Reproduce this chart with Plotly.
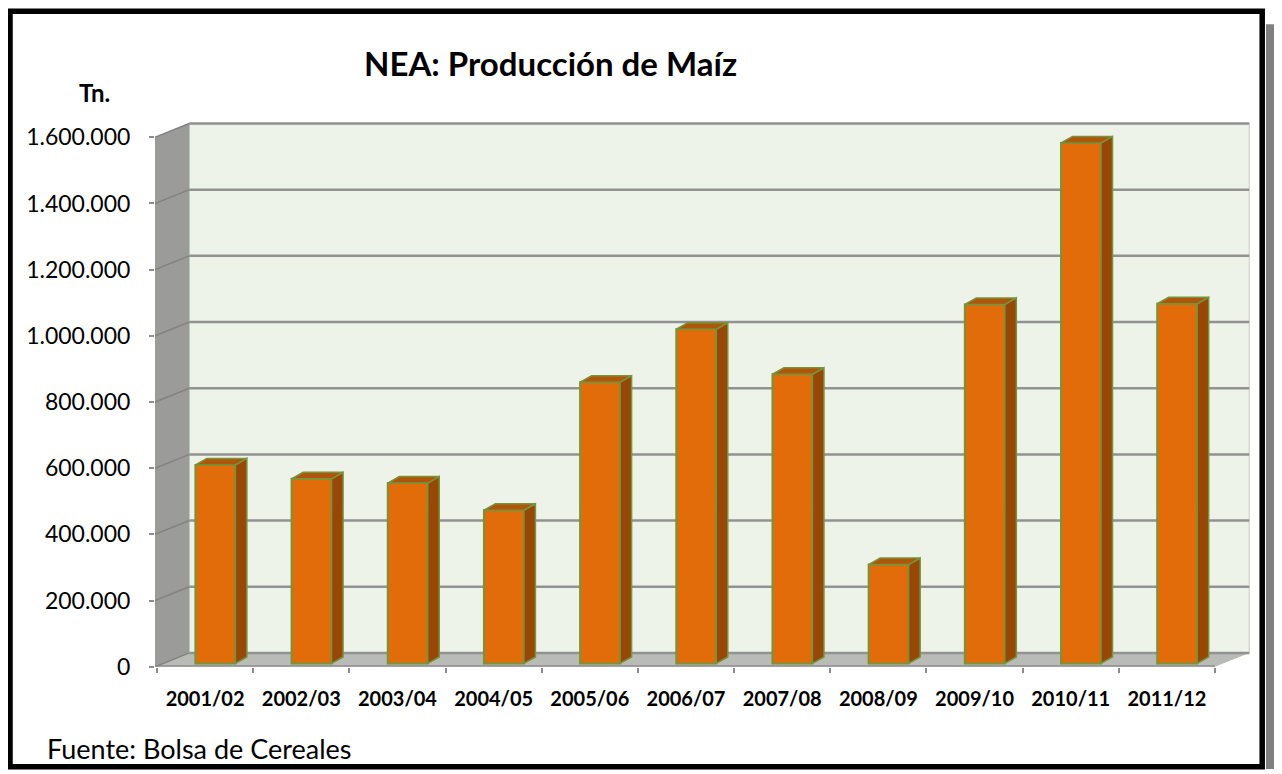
import plotly.graph_objects as go

# ---------------- data ----------------
categories = ["2001/02", "2002/03", "2003/04", "2004/05", "2005/06", "2006/07",
              "2007/08", "2008/09", "2009/10", "2010/11", "2011/12"]
production = [600000, 558000, 545000, 463000, 850000, 1010000,
              874000, 299000, 1085000, 1573000, 1087000]
y_ticks = [0, 200000, 400000, 600000, 800000, 1000000, 1200000, 1400000, 1600000]
y_tick_text = [f"{t:,}".replace(",", ".") for t in y_ticks]
title_text = "NEA: Producción de Maíz"
unit_label = "Tn."
source_text = "Fuente: Bolsa de Cereales"

# ---------------- geometry (screen pixels of the 1282x774 picture) ----------------
OX, OY = 8, 8                 # body margin: figure div starts at (8, 8)
W, H = 1266, 774
SY = 774 / 790                # vertical page -> picture factor
PX_L, PX_R = 155.0, 1250.0
PY_B, PY_T = 664.3, 100.0
UNIT = 96.18                  # px per category
K = 65.95 / 200000            # px per tonne
n = len(categories)
X_LEFT = -0.5 - 2 / UNIT
X_RIGHT = X_LEFT + (PX_R - PX_L) / UNIT
Y_TOP = (PY_B - PY_T) / K
X_FRONT_R = n - 0.5
WALL_DX, WALL_DY = 34.3 / UNIT, 13.8 / K
BAR_W = 40 / UNIT
BAR_SHIFT = 10.3 / UNIT
BAR_BASE = 3.3 / K
BAR_DX, BAR_DY = 11.5 / UNIT, 6.5 / K
Y_MAX = y_ticks[-1]


def px(x):
    return min(max((x - OX) / W, 0.0), 1.0)


def py(y):
    return min(max(1 - (y / SY - OY) / H, 0.0), 1.0)


FRONT = "#E36C0A"
SIDE = "#974806"
TOP = "#B0560A"
EDGE = "#77933C"
FONT = "Lato"

fig = go.Figure()

# bar front faces
fig.add_trace(go.Bar(
    x=list(range(n)), y=production, base=BAR_BASE, width=BAR_W,
    offset=BAR_SHIFT - BAR_W / 2,
    marker=dict(color=FRONT, line=dict(color=EDGE, width=2)),
    hoverinfo="skip", showlegend=False))

# side & top faces
sx, sy, tx, ty = [], [], [], []
for i, v in enumerate(production):
    xl = i + BAR_SHIFT - BAR_W / 2
    xr = xl + BAR_W
    b = BAR_BASE
    sx += [xr, xr + BAR_DX, xr + BAR_DX, xr, xr, None]
    sy += [b, b + BAR_DY, b + v + BAR_DY, b + v, b, None]
    tx += [xl, xr, xr + BAR_DX, xl + BAR_DX, xl, None]
    ty += [b + v, b + v, b + v + BAR_DY, b + v + BAR_DY, b + v, None]
fig.add_trace(go.Scatter(x=sx, y=sy, mode="lines", fill="toself", fillcolor=SIDE,
                         line=dict(color=EDGE, width=1.5), cliponaxis=False,
                         hoverinfo="skip", showlegend=False))
fig.add_trace(go.Scatter(x=tx, y=ty, mode="lines", fill="toself", fillcolor=TOP,
                         line=dict(color=EDGE, width=1.5), cliponaxis=False,
                         hoverinfo="skip", showlegend=False))

shapes = []
# shadow + border (paper) -- kept inside the figure
shapes.append(dict(type="rect", xref="paper", yref="paper", layer="below",
                   x0=px(1266), x1=px(1274), y0=py(24), y1=py(800),
                   fillcolor="#808080", line=dict(width=0)))
shapes.append(dict(type="rect", xref="paper", yref="paper", layer="above",
                   x0=px(10), x1=px(1262.2), y0=py(11), y1=py(763.8),
                   fillcolor="rgba(0,0,0,0)", line=dict(color="black", width=5.5)))
# back wall
shapes.append(dict(type="rect", xref="x", yref="y", layer="below",
                   x0=X_LEFT + WALL_DX, x1=X_FRONT_R + WALL_DX,
                   y0=WALL_DY, y1=Y_MAX + WALL_DY,
                   fillcolor="#EEF3EA", line=dict(color="#D6D8D3", width=1.5)))
# side wall
shapes.append(dict(type="path", xref="x", yref="y", layer="below",
                   path=f"M {X_LEFT},0 L {X_LEFT + WALL_DX},{WALL_DY} "
                        f"L {X_LEFT + WALL_DX},{Y_MAX + WALL_DY} L {X_LEFT},{Y_MAX} Z",
                   fillcolor="#9B9C99", line=dict(width=0)))
# floor
shapes.append(dict(type="path", xref="x", yref="y", layer="below",
                   path=f"M {X_LEFT},0 L {X_FRONT_R},0 L {X_FRONT_R + WALL_DX},{WALL_DY} "
                        f"L {X_LEFT + WALL_DX},{WALL_DY} Z",
                   fillcolor="#B9BBB6", line=dict(width=0)))
# gridlines on back wall and side wall
for t in y_ticks:
    shapes.append(dict(type="line", xref="x", yref="y", layer="below",
                       x0=X_LEFT + WALL_DX, x1=X_FRONT_R + WALL_DX,
                       y0=t + WALL_DY, y1=t + WALL_DY,
                       line=dict(color="#929292", width=2.5)))
    shapes.append(dict(type="line", xref="x", yref="y", layer="below",
                       x0=X_LEFT, x1=X_LEFT + WALL_DX, y0=t, y1=t + WALL_DY,
                       line=dict(color="#828282", width=1.5)))
# floor front edge
shapes.append(dict(type="line", xref="x", yref="y", layer="below",
                   x0=X_LEFT, x1=X_FRONT_R, y0=0, y1=0,
                   line=dict(color="#8C8C8C", width=3)))

annotations = [
    dict(text=title_text, xref="paper", yref="paper", x=px(550), y=py(63),
         xanchor="center", yanchor="middle", showarrow=False,
         font=dict(family=FONT, size=33, color="black", weight="bold")),
    dict(text=unit_label, xref="paper", yref="paper", x=px(94), y=py(92),
         xanchor="center", yanchor="middle", showarrow=False,
         font=dict(family=FONT, size=24, color="black", weight="bold")),
    dict(text=source_text, xref="paper", yref="paper", x=px(45), y=py(746),
         xanchor="left", yanchor="middle", showarrow=False,
         font=dict(family=FONT, size=27, color="black")),
]

fig.update_layout(
    width=W, height=H, margin=dict(l=0, r=0, t=0, b=0),
    paper_bgcolor="white", plot_bgcolor="rgba(0,0,0,0)",
    showlegend=False, shapes=shapes, annotations=annotations,
    xaxis=dict(domain=[px(PX_L), px(PX_R)], range=[X_LEFT, X_RIGHT],
               tickmode="array", tickvals=list(range(n)), ticktext=categories,
               ticks="", showline=False, showgrid=False, zeroline=False,
               ticklabelstandoff=18,
               tickfont=dict(family=FONT, size=20, color="black", weight="bold"),
               minor=dict(tickvals=[i - 0.5 for i in range(n + 1)], ticks="outside",
                          ticklen=5, tickwidth=1.5, tickcolor="#8C8C8C", showgrid=False),
               fixedrange=True),
    yaxis=dict(domain=[py(PY_B), py(PY_T)], range=[0, Y_TOP],
               tickmode="array", tickvals=y_ticks, ticktext=y_tick_text,
               ticks="outside", ticklen=5, tickwidth=1.5, tickcolor="#8C8C8C",
               ticklabelstandoff=14,
               showline=False, showgrid=False, zeroline=False,
               tickfont=dict(family=FONT, size=23, color="black"),
               fixedrange=True),
)

fig.write_html("out.html")
